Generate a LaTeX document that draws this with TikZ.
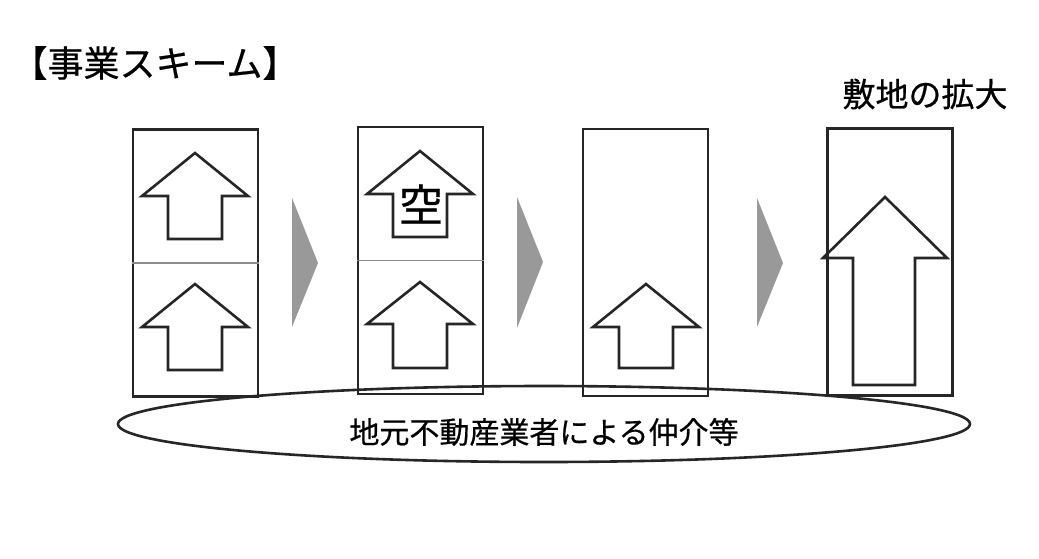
\documentclass[tikz,border=0pt]{standalone}
\usepackage{fontspec}
\newfontfamily\jpfont[FakeBold=0.6]{Noto Sans CJK JP}
\definecolor{linegray}{gray}{0.15}
\definecolor{divgray}{gray}{0.55}
\definecolor{chevgray}{gray}{0.6}

\begin{document}
\begin{tikzpicture}[x=1pt,y=1pt]
            \tikzstyle{every node}+=[inner sep=0pt]
            \tikzstyle{stagebox}=[draw=linegray, line width=2.6pt, minimum width=125pt, minimum height=267pt]
            \tikzstyle{uparrow}=[draw=linegray, line width=2.6pt, line join=miter]
            \useasboundingbox (0,0) rectangle (1039,-558);
            \draw (155,-63) node (title) {\jpfont\fontsize{36}{40}\selectfont 【事業スキーム】};
            \draw (925,-94) node (growth) {\jpfont\fontsize{33}{38}\selectfont 敷地の拡大};
            \node [stagebox] (box1) at (195.5,-263) {};
            \node [stagebox] (box2) at (420.5,-260.5) {};
            \node [stagebox] (box3) at (645.5,-262.5) {};
            \node [stagebox] (box4) at (890,-262) {};
            \draw [divgray, line width=1.8pt] (box1.west) -- (box1.east);
            \draw [divgray, line width=1.8pt] (box2.west) -- (box2.east);
            \draw [uparrow] (195,-153) -- (248,-196) -- (222,-196) -- (222,-239) -- (168,-239) -- (168,-196) -- (142,-196) -- cycle;
            \draw [uparrow] (195,-284) -- (248,-327) -- (222,-327) -- (222,-370) -- (168,-370) -- (168,-327) -- (142,-327) -- cycle;
            \draw [uparrow] (420,-151) -- (473,-194) -- (447,-194) -- (447,-237) -- (393,-237) -- (393,-194) -- (367,-194) -- cycle;
            \draw (421,-204) node (vacant) {\jpfont\fontsize{44}{48}\selectfont 空};
            \draw [uparrow] (420,-282) -- (473,-324) -- (447,-324) -- (447,-368) -- (393,-368) -- (393,-324) -- (367,-324) -- cycle;
            \draw [uparrow] (646,-284) -- (699,-327) -- (673,-327) -- (673,-368) -- (619,-368) -- (619,-327) -- (593,-327) -- cycle;
            \draw [uparrow] (885,-197) -- (947,-258) -- (915,-258) -- (915,-385) -- (853,-385) -- (853,-258) -- (823,-258) -- cycle;
            \fill [chevgray] (292,-198) -- (318,-263) -- (292,-327) -- cycle;
            \fill [chevgray] (517,-197) -- (543,-262) -- (517,-328) -- cycle;
            \fill [chevgray] (757,-198) -- (783,-263) -- (757,-327) -- cycle;
            \draw [linegray, line width=2.6pt] (544,-424) ellipse (426 and 38);
            \draw (544,-432) node (broker) {\jpfont\fontsize{30}{34}\selectfont 地元不動産業者による仲介等};
        \end{tikzpicture}
\end{document}
